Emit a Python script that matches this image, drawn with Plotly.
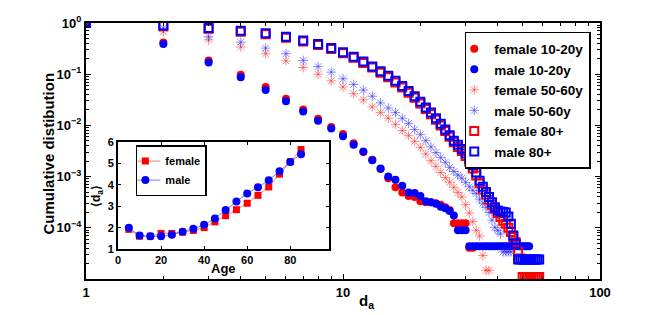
import plotly.graph_objects as go

# ---------------- data ----------------
# main plot: log10 of the cumulative distribution, for degree d = 1, 2, 3, ...
female_young_log10 = [0, -0.38, -0.73, -1.01, -1.25, -1.48, -1.69, -1.87, -2.03, -2.17,
                      -2.35, -2.52, -2.67, -2.85, -3.03, -3.21, -3.31, -3.38, -3.40, -3.48,
                      -3.50, -3.50, -3.52, -3.55, -3.60, -3.65, -3.91, -3.91, -3.91, -3.91,
                      -4.39, -4.39]
male_young_log10 = ([0, -0.41, -0.77, -1.06, -1.31, -1.53, -1.73, -1.91, -2.06, -2.21,
                     -2.38, -2.51, -2.68, -2.84, -3.00, -3.06, -3.18, -3.31, -3.32, -3.38,
                     -3.48, -3.50, -3.53, -3.59, -3.62, -3.67, -3.76]
                    + [-4.05] * 3 + [-4.36] * 23)
female_mid_log10 = [0, -0.17, -0.33, -0.47, -0.60, -0.74, -0.87, -1.00, -1.13, -1.25,
                    -1.38, -1.50, -1.64, -1.75, -1.86, -1.98, -2.10, -2.20, -2.31, -2.43,
                    -2.56, -2.69, -2.80, -2.92, -3.02, -3.11, -3.21, -3.31, -3.40, -3.55,
                    -3.71, -3.88, -4.05, -4.16, -4.54, -4.83, -4.83]
male_mid_log10 = [0, -0.10, -0.27, -0.375, -0.49, -0.60, -0.73, -0.85, -0.96, -1.09,
                  -1.20, -1.31, -1.43, -1.56, -1.66, -1.75, -1.86, -1.96, -2.08, -2.18,
                  -2.30, -2.42, -2.53, -2.63, -2.72, -2.82, -2.90, -2.97, -3.03, -3.11,
                  -3.20, -3.27, -3.33, -3.44, -3.52, -3.60, -3.70, -3.85, -3.99, -4.05,
                  -4.12, -4.47, -4.47, -4.47, -4.47]
female_old_log10 = ([0, -0.06, -0.11, -0.17, -0.22, -0.29, -0.36, -0.43, -0.51, -0.59,
                     -0.68, -0.78, -0.87, -0.97, -1.06, -1.16, -1.26, -1.36, -1.46, -1.57,
                     -1.68, -1.78, -1.89, -2.00, -2.11, -2.22, -2.33, -2.42, -2.50, -2.60,
                     -2.71, -2.84, -2.98, -3.13, -3.25, -3.35, -3.45, -3.55, -3.63, -3.71,
                     -3.79, -3.86, -3.92, -4.00, -4.08, -4.18, -4.28, -4.47, -4.60]
                    + [-4.96] * 9)
male_old_log10 = ([0, -0.05, -0.10, -0.15, -0.20, -0.27, -0.34, -0.41, -0.49, -0.57,
                   -0.66, -0.75, -0.85, -0.94, -1.03, -1.13, -1.23, -1.33, -1.43, -1.54,
                   -1.65, -1.75, -1.86, -1.97, -2.08, -2.19, -2.30, -2.38, -2.46, -2.55,
                   -2.66, -2.78, -2.92, -3.08, -3.20, -3.30, -3.40, -3.50, -3.60, -3.66,
                   -3.68, -3.69, -3.70, -3.78, -3.92, -4.15, -4.31]
                  + [-4.62] * 11)

series_names = ["female 10-20y", "male 10-20y", "female 50-60y",
                "male 50-60y", "female 80+", "male 80+"]

# inset: mean degree vs age
ages = [5, 10, 15, 20, 25, 30, 35, 40, 45, 50, 55, 60, 65, 70, 75, 80, 85]
female_mean_degree = [1.92, 1.60, 1.60, 1.73, 1.73, 1.79, 1.87, 2.00, 2.27, 2.56,
                      2.84, 3.14, 3.51, 3.90, 4.50, 5.08, 5.65]
male_mean_degree = [2.00, 1.63, 1.60, 1.60, 1.67, 1.81, 1.95, 2.13, 2.43, 2.83,
                    3.22, 3.60, 3.89, 4.21, 4.64, 5.07, 5.43]

x_major = [1, 10, 100]
x_major_text = ["1", "10", "100"]
y_major = [1, 0.1, 0.01, 0.001, 0.0001]
y_major_text = ["10<sup>0</sup>", "10<sup>−1</sup>", "10<sup>−2</sup>",
                "10<sup>−3</sup>", "10<sup>−4</sup>"]

# ---------------- figure ----------------
FONT = "Liberation Sans, Arial, Helvetica, sans-serif"
RED = "#ff0000"
BLUE = "#0000ff"


def to_prob(logs):
    return [10 ** v for v in logs]


def degrees(logs):
    return list(range(1, len(logs) + 1))


fig = go.Figure()

styles = [
    (female_young_log10, dict(symbol="circle", size=8, color=RED, line=dict(width=0))),
    (male_young_log10, dict(symbol="circle", size=8, color=BLUE, line=dict(width=0))),
    (female_mid_log10, dict(symbol="asterisk-open", size=8, color="rgba(255,40,40,0.55)",
                            line=dict(width=1))),
    (male_mid_log10, dict(symbol="asterisk-open", size=8, color="rgba(40,40,255,0.55)",
                          line=dict(width=1))),
    (female_old_log10, dict(symbol="square-open", size=8, color=RED, line=dict(width=2))),
    (male_old_log10, dict(symbol="square-open", size=8, color=BLUE, line=dict(width=2))),
]
for name, (logs, mk) in zip(series_names, styles):
    fig.add_trace(go.Scatter(x=degrees(logs), y=to_prob(logs), mode="markers",
                             name=name, marker=mk, xaxis="x", yaxis="y",
                             legend="legend"))

fig.add_trace(go.Scatter(x=ages, y=female_mean_degree, mode="lines+markers", name="female",
                         line=dict(color="rgba(255,90,90,0.8)", width=1),
                         marker=dict(symbol="square", size=7, color=RED),
                         xaxis="x2", yaxis="y2", legend="legend2"))
fig.add_trace(go.Scatter(x=ages, y=male_mean_degree, mode="lines+markers", name="male",
                         line=dict(color="rgba(90,90,255,0.8)", width=1),
                         marker=dict(symbol="circle", size=8, color=BLUE),
                         xaxis="x2", yaxis="y2", legend="legend2"))

x_minor = [k * 10 ** e for e in range(0, 2) for k in range(2, 10)]
y_minor = [k * 10.0 ** e for e in range(-5, 0) for k in range(2, 10)]

axis_common = dict(showgrid=False, zeroline=False, showline=True, linecolor="black",
                   linewidth=2, mirror="ticks", ticks="inside", tickcolor="black",
                   tickwidth=1, automargin=False)

fig.update_layout(
    width=664, height=315,
    margin=dict(l=86, r=64, t=23, b=36, autoexpand=False),
    paper_bgcolor="white", plot_bgcolor="white",
    font=dict(family=FONT, color="black"),
    xaxis=dict(type="log", range=[0, 2], domain=[0, 1],
               tickmode="array", tickvals=x_major, ticktext=x_major_text, ticklen=5,
               tickfont=dict(size=13, weight="bold"),
               minor=dict(tickmode="array", tickvals=x_minor, ticks="inside",
                          ticklen=3, tickcolor="black"),
               **axis_common),
    yaxis=dict(type="log", range=[-5, 0], domain=[0, 1],
               tickmode="array", tickvals=y_major, ticktext=y_major_text, ticklen=5,
               tickfont=dict(size=13, weight="bold"),
               minor=dict(tickmode="array", tickvals=y_minor, ticks="inside",
                          ticklen=3, tickcolor="black"),
               **axis_common),
    xaxis2=dict(range=[0, 98], domain=[0.0623, 0.4728], anchor="y2",
                tickmode="array", tickvals=[0, 20, 40, 60, 80], ticklen=3,
                tickfont=dict(size=11, weight="bold"), **axis_common),
    yaxis2=dict(range=[1, 6], domain=[0.117, 0.535], anchor="x2",
                tickmode="array", tickvals=[1, 2, 3, 4, 5, 6], ticklen=3,
                tickfont=dict(size=11, weight="bold"), **axis_common),
    legend=dict(x=0.982, y=0.965, xanchor="right", yanchor="top",
                bgcolor="white", bordercolor="black", borderwidth=1.5,
                font=dict(size=13.5, weight="bold"), indentation=-12,
                tracegroupgap=0),
    legend2=dict(x=0.097, y=0.523, xanchor="left", yanchor="top",
                 bgcolor="white", bordercolor="black", borderwidth=1.5,
                 font=dict(size=11, weight="bold"), indentation=-12,
                 tracegroupgap=0),
    annotations=[
        dict(text="<b>d<sub>a</sub></b>", xref="paper", yref="paper",
             x=(366 - 86) / 514, y=-(301 - 279) / 256, xanchor="center", yanchor="middle",
             showarrow=False, font=dict(size=15)),
        dict(text="<b>Cumulative distibution</b>", xref="paper", yref="paper",
             x=-(86 - 49) / 514, y=0.49, xanchor="center", yanchor="middle",
             textangle=-90, showarrow=False, font=dict(size=15)),
        dict(text="<b>Age</b>", xref="paper", yref="paper",
             x=(223 - 86) / 514, y=(279 - 268) / 256, xanchor="center", yanchor="middle",
             showarrow=False, font=dict(size=13)),
        dict(text="<b>⟨d<sub>a</sub>⟩</b>", xref="paper", yref="paper",
             x=(97 - 86) / 514, y=(279 - 196) / 256, xanchor="center", yanchor="middle",
             textangle=-90, showarrow=False, font=dict(size=12)),
    ],
)

fig.write_html("out.html", config={"displayModeBar": False},
               post_script="document.body.style.margin='0';document.body.style.padding='0';")
